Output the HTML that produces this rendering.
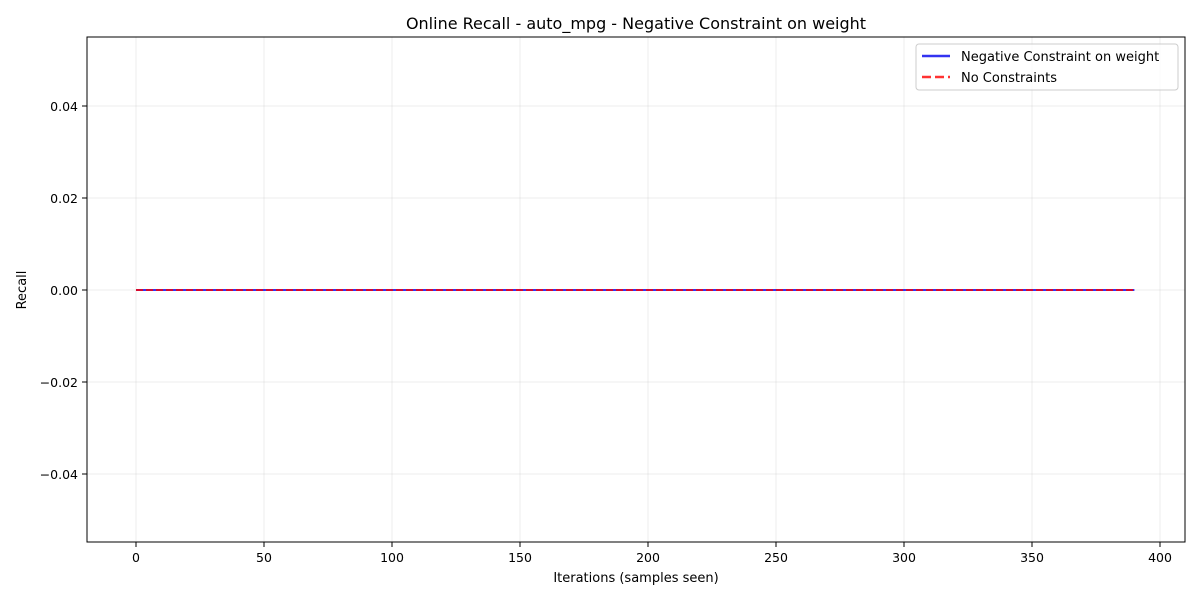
<!DOCTYPE html>
<html><head><meta charset="utf-8">
<style>
body{margin:0;background:#fff;font-family:"Liberation Sans","DejaVu Sans",sans-serif;}
svg text{font-family:"DejaVu Sans","Liberation Sans",sans-serif;}
</style></head>
<body>
<svg id="chart" width="1200" height="600" xmlns="http://www.w3.org/2000/svg">
<rect width="1200" height="600" fill="#fff"/>
<g id="grid"></g>
<g id="series"></g>
<rect x="87" y="37" width="1098" height="505" fill="none" stroke="#000" stroke-width="1"/>
<g id="axes"></g>
<text x="636" y="29" font-size="16" text-anchor="middle">Online Recall - auto_mpg - Negative Constraint on weight</text>
<text x="636" y="582" font-size="13" text-anchor="middle">Iterations (samples seen)</text>
<text transform="translate(26,290) rotate(-90)" font-size="13" text-anchor="middle">Recall</text>
<g>
<rect x="916" y="44" width="262" height="46" rx="3" fill="#fff" fill-opacity="0.8" stroke="#ccc"/>
<line x1="922" y1="56" x2="950" y2="56" stroke="#0000ee" stroke-opacity="0.8" stroke-width="2.5"/>
<text x="961" y="61" font-size="13">Negative Constraint on weight</text>
<line x1="922" y1="77" x2="950" y2="77" stroke="#ff0000" stroke-opacity="0.8" stroke-width="2.5" stroke-dasharray="9,4"/>
<text x="961" y="82" font-size="13">No Constraints</text>
</g>
</svg>
<script>
const iterations = [0, 50, 100, 150, 200, 250, 300, 350, 390];
const constrainedRecall = [0, 0, 0, 0, 0, 0, 0, 0, 0];
const unconstrainedRecall = [0, 0, 0, 0, 0, 0, 0, 0, 0];
const xTicks = [0, 50, 100, 150, 200, 250, 300, 350, 400];
const yTicks = [-0.04, -0.02, 0, 0.02, 0.04];
const yTickLabels = ["\u22120.04", "\u22120.02", "0.00", "0.02", "0.04"];

const NS = "http://www.w3.org/2000/svg";
const X = v => 136 + v * 2.56;
const Y = v => 290 - v * 4600;
function mk(tag, attrs, parent) {
  const e = document.createElementNS(NS, tag);
  for (const k in attrs) e.setAttribute(k, attrs[k]);
  parent.appendChild(e);
  return e;
}
const grid = document.getElementById('grid');
const axes = document.getElementById('axes');
const series = document.getElementById('series');
xTicks.forEach(t => {
  const g = mk('line', {x1: X(t), x2: X(t), y1: 37, y2: 542, stroke: '#b0b0b0', 'stroke-opacity': 0.3, 'stroke-width': 0.8}, grid);
  
  
  const tk = mk('line', {x1: X(t), x2: X(t), y1: 542, y2: 547, stroke: '#000'}, axes);
  
  
  const tx = mk('text', {x: X(t), y: 562, 'font-size': 12.5, 'text-anchor': 'middle'}, axes);
  tx.textContent = t;
  
  
});
yTicks.forEach((t, i) => {
  const g = mk('line', {x1: 87, x2: 1185, y1: Y(t), y2: Y(t), stroke: '#b0b0b0', 'stroke-opacity': 0.3, 'stroke-width': 0.8}, grid);
  
  
  const tk = mk('line', {x1: 82, x2: 87, y1: Y(t), y2: Y(t), stroke: '#000'}, axes);
  
  
  const tx = mk('text', {x: 78, y: Y(t) + 5, 'font-size': 12.5, 'text-anchor': 'end'}, axes);
  tx.textContent = yTickLabels[i];
  
  
});
const pts = arr => iterations.map((v, i) => X(v) + ',' + Y(arr[i])).join(' ');
const l1 = mk('polyline', {points: pts(constrainedRecall), fill: 'none', stroke: '#0000ee', 'stroke-opacity': 0.8, 'stroke-width': 2}, series);


const l2 = mk('polyline', {points: pts(unconstrainedRecall), fill: 'none', stroke: '#ff0000', 'stroke-opacity': 0.8, 'stroke-width': 2, 'stroke-dasharray': '7,3'}, series);


</script>
</body></html>
